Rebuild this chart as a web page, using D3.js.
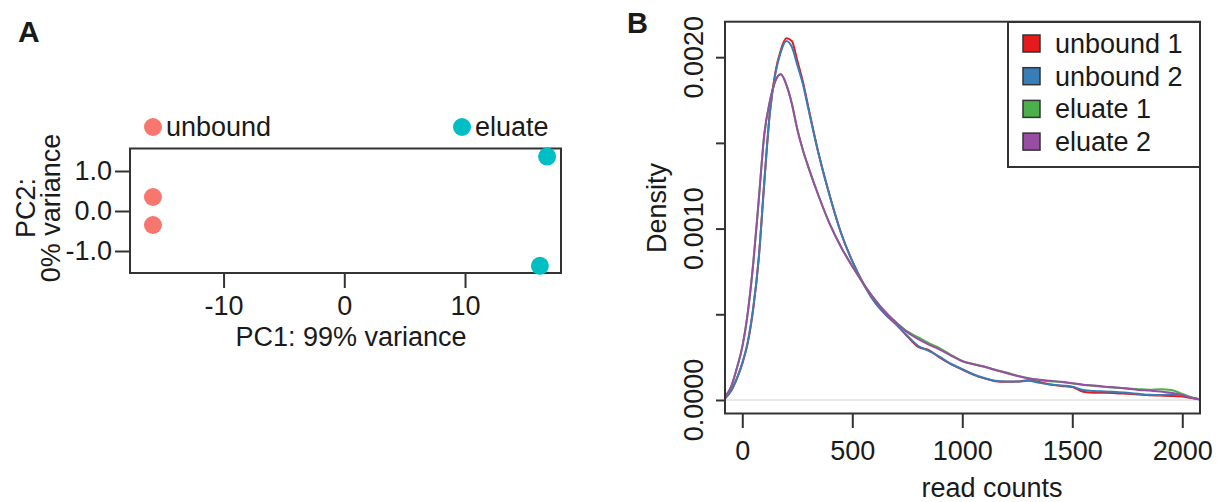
<!DOCTYPE html>
<html>
<head>
<meta charset="utf-8">
<script src="https://cdn.jsdelivr.net/npm/d3@7"></script>
<style>
  body { margin: 0; background: #fff; }
  svg { display: block; font-family: "Liberation Sans", Arial, sans-serif; }
</style>
</head>
<body>
<svg id="chart" width="1221" height="502"></svg>
<script>
// ---- panel A: PCA of samples ----
const pcaGroups = ["unbound", "eluate"];
const pcaGroupColors = ["#F8766D", "#00BFC4"];
const pcaSampleGroup = ["unbound", "unbound", "eluate", "eluate"];
const pc1 = [-15.85, -15.85, 16.8, 16.2];
const pc2 = [0.35, -0.35, 1.36, -1.37];
const pc1Ticks = [-10, 0, 10];
const pc2Ticks = [-1, 0, 1];

// ---- panel B: read count densities ----
const sampleNames = ["unbound 1", "unbound 2", "eluate 1", "eluate 2"];
const sampleColors = ["#E41A1C", "#377EB8", "#4DAF4A", "#984EA3"];
const readCounts = [-78, -50, -25, 0, 25, 50, 75, 100, 125, 150, 175, 200, 225, 250, 275, 300,
  350, 400, 450, 500, 550, 600, 650, 700, 750, 800, 850, 900, 950, 1000, 1050, 1100, 1150,
  1200, 1250, 1300, 1350, 1400, 1450, 1500, 1550, 1600, 1650, 1700, 1750, 1800, 1850, 1900,
  1950, 2000, 2050, 2080];
const unbound1 = [0.000010, 0.000055, 0.000125, 0.000212, 0.000335, 0.000535, 0.000830, 0.001270,
  0.001675, 0.001910, 0.002040, 0.002110, 0.002095, 0.001980, 0.001860, 0.001710,
  0.001420, 0.001180, 0.000970, 0.000810, 0.000680, 0.000575, 0.000500, 0.000440, 0.000372,
  0.000310, 0.000290, 0.000245, 0.000208, 0.000178, 0.000148, 0.000126, 0.000110,
  0.000106, 0.000108, 0.000115, 0.000105, 0.000090, 0.000082, 0.000075, 0.000048, 0.000042,
  0.000042, 0.000040, 0.000036, 0.000032, 0.000028, 0.000026, 0.000024, 0.000020, 0.000010, 0.000004];
const unbound2 = [0.000010, 0.000055, 0.000125, 0.000215, 0.000340, 0.000540, 0.000830, 0.001270,
  0.001670, 0.001900, 0.002030, 0.002095, 0.002060, 0.001955, 0.001845, 0.001700,
  0.001420, 0.001180, 0.000970, 0.000810, 0.000680, 0.000575, 0.000500, 0.000440, 0.000375,
  0.000315, 0.000285, 0.000250, 0.000210, 0.000180, 0.000150, 0.000128, 0.000112,
  0.000108, 0.000108, 0.000112, 0.000100, 0.000090, 0.000084, 0.000078, 0.000058, 0.000052,
  0.000050, 0.000047, 0.000042, 0.000036, 0.000030, 0.000029, 0.000032, 0.000030, 0.000012, 0.000004];
const eluate1 = [0.000020, 0.000080, 0.000185, 0.000310, 0.000510, 0.000800, 0.001170, 0.001550,
  0.001740, 0.001860, 0.001900, 0.001840, 0.001730, 0.001580, 0.001460, 0.001360,
  0.001180, 0.001020, 0.000890, 0.000780, 0.000680, 0.000590, 0.000515, 0.000452, 0.000400,
  0.000365, 0.000330, 0.000300, 0.000262, 0.000228, 0.000210, 0.000195, 0.000176,
  0.000160, 0.000142, 0.000128, 0.000116, 0.000110, 0.000105, 0.000097, 0.000088, 0.000082,
  0.000076, 0.000072, 0.000068, 0.000063, 0.000060, 0.000062, 0.000058, 0.000035, 0.000012, 0.000003];
const eluate2 = [0.000020, 0.000080, 0.000185, 0.000310, 0.000510, 0.000800, 0.001170, 0.001550,
  0.001740, 0.001860, 0.001900, 0.001840, 0.001730, 0.001580, 0.001460, 0.001360,
  0.001180, 0.001020, 0.000890, 0.000780, 0.000680, 0.000590, 0.000512, 0.000450, 0.000395,
  0.000355, 0.000322, 0.000293, 0.000258, 0.000226, 0.000208, 0.000194, 0.000175,
  0.000157, 0.000140, 0.000126, 0.000118, 0.000112, 0.000106, 0.000098, 0.000089, 0.000084,
  0.000078, 0.000073, 0.000066, 0.000059, 0.000055, 0.000050, 0.000042, 0.000028, 0.000010, 0.000003];
const densityTicksX = [0, 500, 1000, 1500, 2000];
const densityTicksY = [0, 0.0005, 0.001, 0.0015, 0.002];
const densityLabelsY = [0, 0.001, 0.002];

const svg = d3.select("#chart");
const ink = "#1a1a1a";
const frame = "#333";
const fontSize = 27;

// ================= panel A =================
const xA = d3.scaleLinear().domain([-17.75, 17.95]).range([130, 561]);
const yA = d3.scaleLinear().domain([-1.55, 1.5625]).range([273, 148.5]);
const colorA = d3.scaleOrdinal().domain(pcaGroups).range(pcaGroupColors);

svg.append("text")
  .attr("x", 18).attr("y", 42)
  .attr("font-size", 30).attr("font-weight", "bold").attr("fill", ink)
  .text("A");

const axA = svg.append("g").attr("transform", "translate(0,273)")
  .call(d3.axisBottom(xA).tickValues(pc1Ticks).tickSize(15).tickPadding(8).tickFormat(d => String(d)));
const ayA = svg.append("g").attr("transform", "translate(130,0)")
  .call(d3.axisLeft(yA).tickValues(pc2Ticks).tickSize(15).tickPadding(3).tickFormat(d => d.toFixed(1)));
[axA, ayA].forEach(g => {
  g.select(".domain").remove();
  g.selectAll("line").attr("stroke", frame).attr("stroke-width", 2);
  g.selectAll("text").attr("font-size", fontSize).attr("fill", ink).attr("font-family", null);
});

svg.append("rect")
  .attr("x", xA.range()[0]).attr("y", yA.range()[1])
  .attr("width", xA.range()[1] - xA.range()[0])
  .attr("height", yA.range()[0] - yA.range()[1])
  .attr("fill", "none").attr("stroke", frame).attr("stroke-width", 2);

svg.append("g")
  .selectAll("circle")
  .data(pc1.map((v, i) => ({ x: v, y: pc2[i], g: pcaSampleGroup[i] })))
  .join("circle")
  .attr("cx", d => xA(d.x))
  .attr("cy", d => yA(d.y))
  .attr("r", 9)
  .attr("fill", d => colorA(d.g));

// group legend above the box
const legA = svg.append("g")
  .selectAll("g")
  .data(pcaGroups)
  .join("g")
  .attr("transform", (d, i) => `translate(${[153, 462][i]},127)`);
legA.append("circle").attr("r", 9).attr("fill", d => colorA(d));
legA.append("text").attr("x", 13).attr("y", 9)
  .attr("font-size", fontSize).attr("fill", ink).text(d => d);

svg.append("text")
  .attr("x", 351).attr("y", 346).attr("text-anchor", "middle")
  .attr("font-size", fontSize).attr("fill", ink)
  .text("PC1: 99% variance");
svg.append("text")
  .attr("transform", "translate(35,208) rotate(-90)").attr("text-anchor", "middle")
  .attr("font-size", fontSize).attr("fill", ink)
  .text("PC2:");
svg.append("text")
  .attr("transform", "translate(60,208) rotate(-90)").attr("text-anchor", "middle")
  .attr("font-size", fontSize).attr("fill", ink)
  .text("0% variance");

// ================= panel B =================
const xB = d3.scaleLinear().domain([-78.6, 2080.5]).range([725, 1200]);
const yB = d3.scaleLinear().domain([-0.0000788, 0.002207]).range([413.5, 21.7]);
const colorB = d3.scaleOrdinal().domain(sampleNames).range(sampleColors);

svg.append("text")
  .attr("x", 627).attr("y", 33)
  .attr("font-size", 29).attr("font-weight", "bold").attr("fill", ink)
  .text("B");

// faint zero line
svg.append("line")
  .attr("x1", xB.range()[0]).attr("x2", xB.range()[1])
  .attr("y1", yB(0)).attr("y2", yB(0))
  .attr("stroke", "#e2e2e2").attr("stroke-width", 1.5);

const series = [unbound1, unbound2, eluate1, eluate2].map((vals, i) => ({
  name: sampleNames[i],
  values: readCounts.map((x, j) => [x, vals[j]])
}));

const line = d3.line()
  .x(d => xB(d[0]))
  .y(d => yB(d[1]))
  .curve(d3.curveMonotoneX);

svg.append("g")
  .selectAll("path")
  .data(series)
  .join("path")
  .attr("d", d => line(d.values))
  .attr("fill", "none")
  .attr("stroke", d => colorB(d.name))
  .attr("stroke-width", 2);

const axB = svg.append("g").attr("transform", `translate(0,${yB.range()[0]})`)
  .call(d3.axisBottom(xB).tickValues(densityTicksX).tickSize(14.5).tickPadding(13).tickFormat(d => String(d)));
const ayB = svg.append("g").attr("transform", `translate(${xB.range()[0]},0)`)
  .call(d3.axisLeft(yB).tickValues(densityTicksY).tickSize(9).tickFormat(""));
[axB, ayB].forEach(g => {
  g.select(".domain").remove();
  g.selectAll("line").attr("stroke", frame).attr("stroke-width", 2);
  g.selectAll("text").attr("font-size", fontSize).attr("fill", ink).attr("font-family", null);
});

// y labels run along the axis, as R draws them
svg.append("g")
  .selectAll("text")
  .data(densityLabelsY)
  .join("text")
  .attr("transform", d => `translate(703,${yB(d)}) rotate(-90)`)
  .attr("text-anchor", "middle")
  .attr("font-size", fontSize).attr("fill", ink)
  .text(d => d.toFixed(4));

svg.append("rect")
  .attr("x", xB.range()[0]).attr("y", yB.range()[1])
  .attr("width", xB.range()[1] - xB.range()[0])
  .attr("height", yB.range()[0] - yB.range()[1])
  .attr("fill", "none").attr("stroke", frame).attr("stroke-width", 2);

svg.append("text")
  .attr("transform", "translate(666,208) rotate(-90)").attr("text-anchor", "middle")
  .attr("font-size", fontSize).attr("fill", ink)
  .text("Density");
svg.append("text")
  .attr("x", 992).attr("y", 497).attr("text-anchor", "middle")
  .attr("font-size", fontSize).attr("fill", ink)
  .text("read counts");

// legend box, top right
const legB = svg.append("g");
legB.append("rect")
  .attr("x", 1008).attr("y", 22).attr("width", 192).attr("height", 145)
  .attr("fill", "#fff").attr("stroke", frame).attr("stroke-width", 2);
const rows = legB.selectAll("g")
  .data(sampleNames)
  .join("g")
  .attr("transform", (d, i) => `translate(1023,${43.5 + i * 32.7})`);
rows.append("rect")
  .attr("x", 0).attr("y", -8.5).attr("width", 17).attr("height", 17)
  .attr("fill", d => colorB(d)).attr("stroke", frame).attr("stroke-width", 1.5);
rows.append("text")
  .attr("x", 32).attr("y", 9.5)
  .attr("font-size", fontSize).attr("fill", ink)
  .text(d => d);
</script>
</body>
</html>
